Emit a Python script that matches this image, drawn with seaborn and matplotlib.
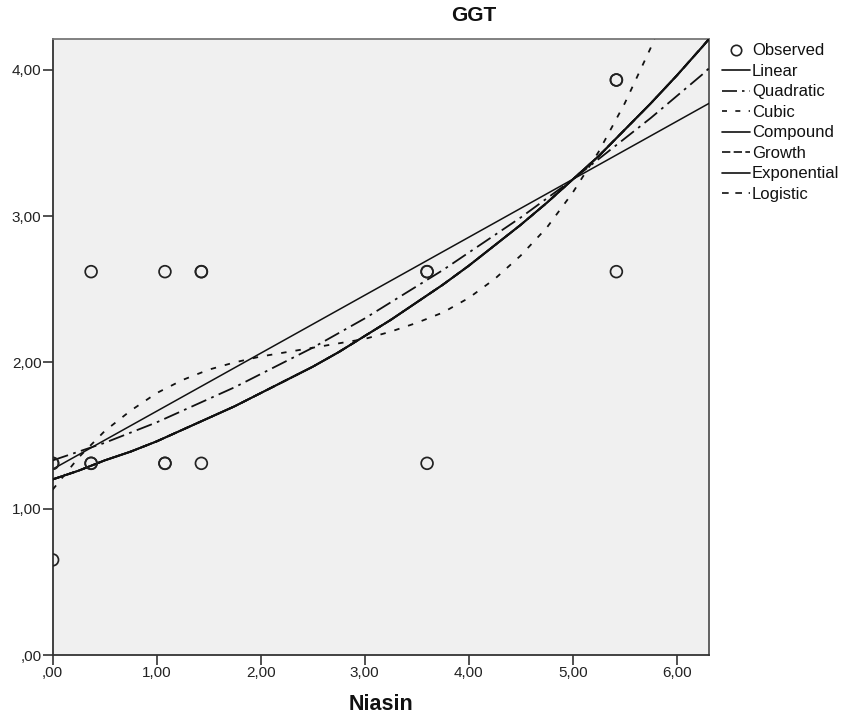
import numpy as np
import pandas as pd
import seaborn as sns
import matplotlib
matplotlib.use("Agg")
import matplotlib.pyplot as plt
from matplotlib.lines import Line2D

# ---------------- data ----------------
obs_x = [0.00, 0.00, 0.00, 0.37, 0.37, 0.37, 1.08, 1.08, 1.08, 1.43, 1.43, 1.43,
         3.60, 3.60, 3.60, 5.42, 5.42, 5.42]
obs_y = [0.65, 1.31, 1.31, 2.62, 1.31, 1.31, 2.62, 1.31, 1.31, 2.62, 2.62, 1.31,
         2.62, 2.62, 1.31, 3.93, 3.93, 2.62]

linear_x = [0.00, 6.31]
linear_y = [1.27, 3.77]

quad_x = [0.0, 0.25, 0.5, 0.75, 1.0, 1.25, 1.5, 1.75, 2.0, 2.25, 2.5, 2.75, 3.0,
          3.25, 3.5, 3.75, 4.0, 4.25, 4.5, 4.75, 5.0, 5.25, 5.5, 5.75, 6.0, 6.25, 6.31]
quad_y = [1.33, 1.39, 1.45, 1.52, 1.59, 1.67, 1.75, 1.83, 1.92, 2.01, 2.10, 2.20, 2.30,
          2.41, 2.52, 2.63, 2.75, 2.87, 2.99, 3.12, 3.25, 3.39, 3.53, 3.67, 3.82, 3.97, 4.01]

cubic_x = [0.0, 0.25, 0.5, 0.75, 1.0, 1.25, 1.5, 1.75, 2.0, 2.25, 2.5, 2.75, 3.0,
           3.25, 3.5, 3.75, 4.0, 4.25, 4.5, 4.75, 5.0, 5.25, 5.5, 5.75, 6.0]
cubic_y = [1.13, 1.35, 1.53, 1.67, 1.79, 1.88, 1.95, 2.00, 2.04, 2.07, 2.10, 2.13, 2.16,
           2.21, 2.27, 2.34, 2.44, 2.57, 2.73, 2.92, 3.16, 3.44, 3.77, 4.15, 4.60]

# compound, growth, exponential and logistic give the same fitted curve
expo_x = [0.0, 0.25, 0.5, 0.75, 1.0, 1.25, 1.5, 1.75, 2.0, 2.25, 2.5, 2.75, 3.0,
          3.25, 3.5, 3.75, 4.0, 4.25, 4.5, 4.75, 5.0, 5.25, 5.5, 5.75, 6.0, 6.25, 6.31]
expo_y = [1.20, 1.26, 1.33, 1.39, 1.46, 1.54, 1.62, 1.70, 1.79, 1.88, 1.97, 2.07, 2.18,
          2.29, 2.41, 2.53, 2.66, 2.80, 2.94, 3.09, 3.25, 3.41, 3.59, 3.77, 3.96, 4.16, 4.21]

x_ticks = [0, 1, 2, 3, 4, 5, 6]
x_tick_labels = [",00", "1,00", "2,00", "3,00", "4,00", "5,00", "6,00"]
y_ticks = [0, 1, 2, 3, 4]
y_tick_labels = [",00", "1,00", "2,00", "3,00", "4,00"]

legend_labels = ["Observed", "Linear", "Quadratic", "Cubic", "Compound",
                 "Growth", "Exponential", "Logistic"]

title = "GGT"
x_label = "Niasin"

# ---------------- styling ----------------
sns.set_theme(style="white")
plt.rcParams["font.family"] = ["Liberation Sans", "DejaVu Sans"]

fig = plt.figure(figsize=(8.42, 7.24), dpi=100)
fig.patch.set_facecolor("white")
ax = fig.add_axes([0.0625, 0.0953, 0.7795, 0.8508])
ax.set_facecolor("#F0F0F0")

ink = "#111111"

obs_df = pd.DataFrame({"x": obs_x, "y": obs_y})
sns.scatterplot(data=obs_df, x="x", y="y", ax=ax, marker="o", s=72,
                facecolor="none", edgecolor="#222222", linewidth=1.25, zorder=5)

styles = {
    "Linear": dict(ls="-", lw=1.1),
    "Quadratic": dict(ls=(0, (9, 3, 1.5, 3)), lw=1.3),
    "Cubic": dict(ls=(0, (3, 5)), lw=1.3),
    "Compound": dict(ls="-", lw=1.4),
    "Growth": dict(ls=(0, (5, 2)), lw=1.4),
    "Exponential": dict(ls="-", lw=1.4),
    "Logistic": dict(ls=(0, (4, 4)), lw=1.4),
}

curves = {
    "Linear": (linear_x, linear_y),
    "Quadratic": (quad_x, quad_y),
    "Cubic": (cubic_x, cubic_y),
    "Compound": (expo_x, expo_y),
    "Growth": (expo_x, expo_y),
    "Exponential": (expo_x, expo_y),
    "Logistic": (expo_x, expo_y),
}

for name, (cx, cy) in curves.items():
    df = pd.DataFrame({"x": cx, "y": cy})
    st = styles[name]
    sns.lineplot(data=df, x="x", y="y", ax=ax, color=ink, linewidth=st["lw"],
                 linestyle=st["ls"], estimator=None, sort=False, zorder=4)

ax.set_xlim(0, 6.31)
ax.set_ylim(0, 4.21)
ax.set_xticks(x_ticks)
ax.set_xticklabels(x_tick_labels)
ax.set_yticks(y_ticks)
ax.set_yticklabels(y_tick_labels)
ax.set_xlabel("")
ax.set_ylabel("")
ax.tick_params(axis="both", which="major", direction="out", length=7, width=1.2,
               color="#333333", labelsize=11, labelcolor="#222222", pad=1,
               bottom=True, left=True)

for side, sp in ax.spines.items():
    sp.set_color("#333333")
    sp.set_linewidth(1.3)
ax.spines["top"].set_color("#777777")
ax.spines["right"].set_color("#555555")

fig.text(0.563, 0.979, title, ha="center", va="center", fontsize=15,
         fontweight="bold", color="#111111")
fig.text(0.453, 0.027, x_label, ha="center", va="center", fontsize=15.5,
         fontweight="bold", color="#111111")

# legend
handles = [Line2D([], [], marker="o", ls="none", markerfacecolor="none",
                  markeredgecolor="#222222", markeredgewidth=1.2, markersize=7.5)]
for name in legend_labels[1:]:
    st = styles[name]
    handles.append(Line2D([], [], color=ink, lw=1.2, ls=st["ls"]))
leg = ax.legend(handles, legend_labels, loc="upper left",
                bbox_to_anchor=(0.8575, 0.940), bbox_transform=fig.transFigure,
                frameon=False, fontsize=12, handlelength=1.65, handletextpad=0.15,
                labelspacing=0.33, borderpad=0, borderaxespad=0)
for t in leg.get_texts():
    t.set_color("#111111")

fig.savefig("out.png", dpi=100, facecolor="white")
